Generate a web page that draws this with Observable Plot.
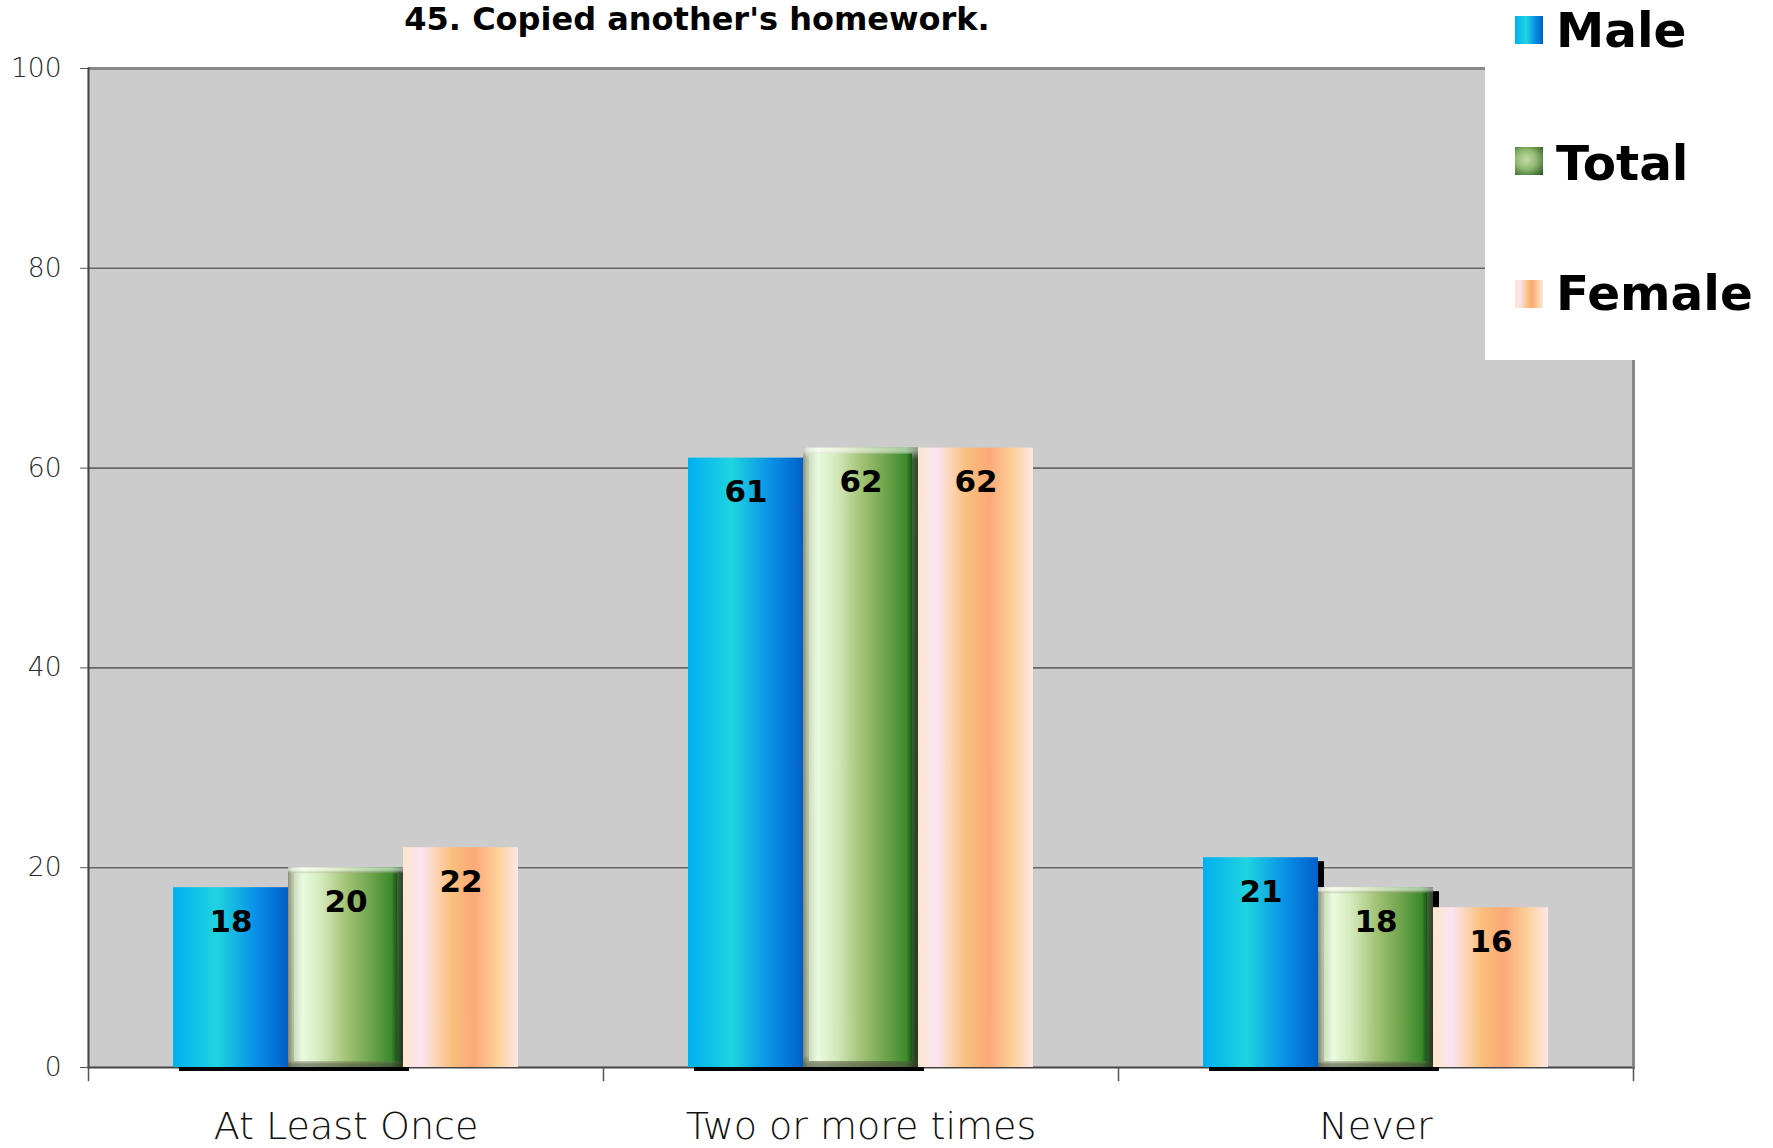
<!DOCTYPE html>
<html>
<head>
<meta charset="utf-8">
<script src="https://cdn.jsdelivr.net/npm/d3@7"></script>
<script src="https://cdn.jsdelivr.net/npm/@observablehq/plot@0.6"></script>
<style>
  html, body { margin: 0; padding: 0; background: #ffffff; }
  #wrap { position: relative; width: 1773px; height: 1148px; overflow: hidden; font-family: "DejaVu Sans", Verdana, sans-serif; }
  #chart { position: absolute; left: 0; top: 0; }
  #title { position: absolute; left: 0; top: 0; width: 1394px; text-align: center; font-size: 32px; line-height: normal; font-weight: bold; color: #000; white-space: nowrap; }
  #legend { position: absolute; left: 1485px; top: 0; width: 288px; height: 360px; background: #ffffff; }
  .sw { position: absolute; left: 30px; width: 28px; height: 28px; }
  .lt { position: absolute; left: 71px; font-size: 48.5px; line-height: 48px; font-weight: bold; color: #000; white-space: nowrap; }
</style>
</head>
<body>
<div id="wrap">
  <div id="chart"></div>
  <div id="title"></div>
  <div id="legend"></div>
</div>
<script>
const title = "45. Copied another's homework.";
const categories = ["At Least Once", "Two or more times", "Never"];
const series = ["Male", "Total", "Female"];
const male = [18, 61, 21];
const total = [20, 62, 18];
const female = [22, 62, 16];
const yTicks = [0, 20, 40, 60, 80, 100];

const valuesBySeries = {Male: male, Total: total, Female: female};
const rows = categories.flatMap((c, i) => series.map(s => ({category: c, series: s, value: valuesBySeries[s][i]})));
const bySeries = s => rows.filter(d => d.series === s);

const chart = Plot.plot({
  width: 1773,
  height: 1148,
  marginLeft: 87,
  marginRight: 140,
  marginTop: 68,
  marginBottom: 81,
  style: {background: "transparent", fontFamily: "DejaVu Sans, Verdana, sans-serif", color: "#222"},
  fx: {domain: categories, padding: 0, label: null},
  x: {domain: series, paddingInner: 0, paddingOuter: 0.72, axis: null},
  y: {domain: [0, 100], label: null},
  marks: [
    Plot.frame({fill: "#cccccc", stroke: "none", insetLeft: -1}),
    Plot.gridY(yTicks.filter(t => t > 0 && t < 100), {stroke: "#666666", strokeOpacity: 1, strokeWidth: 1.6}),
    Plot.ruleY([100], {stroke: "#888888", strokeWidth: 3}),
    Plot.ruleY([0], {stroke: "#444444", strokeWidth: 2}),
    // 3D shadow behind Male and Total bars
    Plot.barY(rows.filter(d => d.series !== "Female"), {fx: "category", x: "series", y: "value", fill: "#000000", dx: 6, dy: 4}),
    Plot.barY(bySeries("Male"), {fx: "category", x: "series", y: "value", fill: "url(#gMale)"}),
    Plot.barY(bySeries("Total"), {fx: "category", x: "series", y: "value", fill: "url(#gTotal)"}),
    Plot.barY(bySeries("Total"), {fx: "category", x: "series", y: "value", fill: "none", stroke: "url(#gBevel)", strokeWidth: 6, inset: 3}),
    Plot.barY(bySeries("Female"), {fx: "category", x: "series", y: "value", fill: "url(#gFemale)"}),
    Plot.text(rows, {fx: "category", x: "series", y: "value", text: d => String(d.value), dy: 34, fontSize: 31, fontWeight: "bold", fill: "#000000"}),
    Plot.frame({anchor: "left", stroke: "#444444", strokeWidth: 2, facetAnchor: "left"}),
    Plot.frame({anchor: "right", stroke: "#888888", strokeWidth: 3, facetAnchor: "right"}),
    Plot.frame({anchor: "left", stroke: "#555555", strokeWidth: 1.5, insetTop: 999, insetBottom: -13}),
    Plot.frame({anchor: "right", stroke: "#555555", strokeWidth: 1.5, insetTop: 999, insetBottom: -13, facetAnchor: "right"}),
    Plot.axisY({ticks: yTicks, tickSize: 8, tickPadding: 19, fontSize: 26.5, stroke: "#555555", fill: "#2a2a2a", fontWeight: 200}),
    Plot.axisFx({anchor: "bottom", tickSize: 0, tickPadding: 45, fontSize: 38, fill: "#111111", fontWeight: 200, label: null})
  ]
});

// gradient definitions
const svg = d3.select(chart);
const defs = svg.insert("defs", ":first-child");
function grad(id, stops, vertical) {
  const g = defs.append("linearGradient").attr("id", id)
    .attr("x1", 0).attr("y1", 0).attr("x2", vertical ? 0 : 1).attr("y2", vertical ? 1 : 0);
  stops.forEach(([o, c, a]) => g.append("stop").attr("offset", o).attr("stop-color", c).attr("stop-opacity", a == null ? 1 : a));
}
grad("gMale", [[0, "#00b0f0"], [0.38, "#20d4e0"], [0.72, "#0890e6"], [1, "#0060c8"]]);
grad("gTotal", [[0, "#8a8a78"], [0.04, "#c8d8b8"], [0.13, "#eafbe0"], [0.3, "#d2e8b8"], [0.5, "#a4c478"], [0.72, "#6ea44c"], [0.9, "#3a8a2c"], [0.97, "#0c3a0c"], [1, "#101a10"]]);
grad("gFemale", [[0, "#fde6cc"], [0.16, "#fce4f2"], [0.3, "#fbd2b0"], [0.42, "#f9c07c"], [0.62, "#fca878"], [0.82, "#fcd098"], [1, "#fee6e4"]]);
grad("gBevel", [[0, "#ffffff", 0.55], [0.015, "#9a9a88", 0.3], [0.985, "#6a6a58", 0.3], [1, "#4a4a38", 0.6]], true);

document.getElementById("chart").appendChild(chart);
document.getElementById("title").textContent = title;

// legend
const legendSwatch = {
  Male: "linear-gradient(to right, #00b0f0 0%, #20d4e0 40%, #0890e6 72%, #0060c8 100%)",
  Total: "radial-gradient(ellipse at 40% 45%, #c4dca8 0%, #8fb870 45%, #3c6e30 85%, #2c4a28 100%)",
  Female: "linear-gradient(to right, #fde6cc 0%, #fce4f2 18%, #f9c07c 45%, #fca878 62%, #fcd098 82%, #fee6e4 100%)"
};
const legendTop = {Male: 16, Total: 147, Female: 280};
const legendTextTop = {Male: 6, Total: 139, Female: 269};
const legend = document.getElementById("legend");
series.forEach(s => {
  const sw = document.createElement("div");
  sw.className = "sw";
  sw.style.top = legendTop[s] + "px";
  sw.style.background = legendSwatch[s];
  legend.appendChild(sw);
  const t = document.createElement("div");
  t.className = "lt";
  t.style.top = legendTextTop[s] + "px";
  t.textContent = s;
  legend.appendChild(t);
});
</script>
</body>
</html>
